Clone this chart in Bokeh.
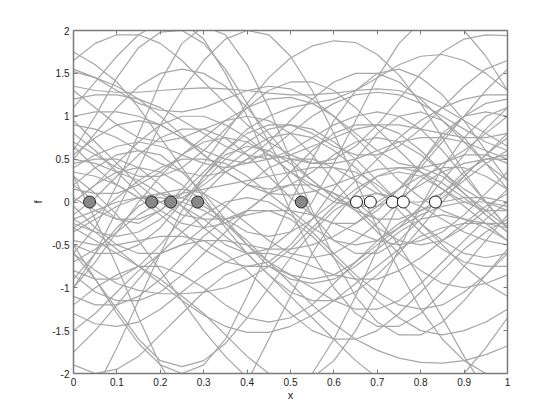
from bokeh.plotting import figure
from bokeh.models import LinearAxis, FixedTicker
from bokeh.embed import file_html
from bokeh.resources import INLINE

x_grid = [0.0, 0.05, 0.1, 0.15, 0.2, 0.25, 0.3, 0.35, 0.4, 0.45, 0.5,
          0.55, 0.6, 0.65, 0.7, 0.75, 0.8, 0.85, 0.9, 0.95, 1.0]

samples = [
    [0.6, 1.0, 1.45, 1.8, 1.98, 2.0, 1.85, 1.55, 1.15, 0.7, 0.25, -0.15, -0.45, -0.6, -0.6, -0.45, -0.2, 0.1, 0.35, 0.5, 0.55],
    [0.2, 0.0, -0.2, -0.25, -0.1, 0.15, 0.45, 0.8, 1.15, 1.45, 1.68, 1.82, 1.88, 1.86, 1.72, 1.48, 1.15, 0.75, 0.35, 0.0, -0.3],
    [-0.8, -0.9, -0.9, -0.75, -0.5, -0.2, 0.1, 0.35, 0.5, 0.55, 0.5, 0.45, 0.5, 0.65, 0.9, 1.2, 1.5, 1.75, 1.9, 1.95, 1.94],
    [1.52, 1.45, 1.35, 1.2, 1.0, 0.78, 0.55, 0.35, 0.2, 0.1, 0.08, 0.12, 0.2, 0.3, 0.38, 0.4, 0.35, 0.22, 0.05, -0.15, -0.35],
    [1.55, 1.45, 1.3, 1.15, 1.07, 1.05, 1.1, 1.2, 1.3, 1.35, 1.32, 1.2, 1.0, 0.75, 0.5, 0.25, 0.05, -0.1, -0.2, -0.25, -0.25],
    [0.5, 0.8, 1.1, 1.35, 1.5, 1.55, 1.5, 1.35, 1.1, 0.8, 0.5, 0.25, 0.05, -0.05, -0.05, 0.05, 0.2, 0.35, 0.45, 0.5, 0.5],
    [-0.5, -0.6, -0.6, -0.5, -0.3, 0.0, 0.3, 0.6, 0.85, 1.0, 1.1, 1.15, 1.2, 1.3, 1.45, 1.6, 1.7, 1.72, 1.65, 1.5, 1.3],
    [-0.6, -0.9, -1.25, -1.6, -1.85, -1.92, -1.85, -1.65, -1.35, -1.0, -0.65, -0.35, -0.1, 0.05, 0.1, 0.05, -0.05, -0.2, -0.35, -0.45, -0.5],
    [-1.3, -1.42, -1.45, -1.4, -1.25, -1.05, -0.85, -0.7, -0.6, -0.6, -0.65, -0.75, -0.85, -0.9, -0.9, -0.8, -0.65, -0.45, -0.25, -0.05, 0.1],
    [-0.2, -0.1, 0.0, 0.05, 0.05, 0.0, -0.1, -0.25, -0.45, -0.7, -0.95, -1.2, -1.42, -1.6, -1.73, -1.82, -1.87, -1.88, -1.85, -1.78, -1.68],
    [-0.6, -0.8, -0.95, -1.03, -1.07, -1.07, -1.05, -1.0, -0.9, -0.75, -0.55, -0.3, -0.05, 0.15, 0.3, 0.35, 0.3, 0.15, -0.05, -0.25, -0.45],
    [-0.2, -0.35, -0.55, -0.75, -0.95, -1.15, -1.32, -1.45, -1.52, -1.52, -1.45, -1.32, -1.15, -0.95, -0.75, -0.55, -0.4, -0.3, -0.25, -0.25, -0.3],
    [-1.75, -1.5, -1.2, -0.9, -0.6, -0.35, -0.15, 0.0, 0.05, 0.0, -0.15, -0.35, -0.6, -0.85, -1.05, -1.2, -1.25, -1.2, -1.05, -0.85, -0.6],
    [0.3, -0.2, -0.75, -1.35, -1.9, -2.3, -2.5, -2.4, -2.1, -1.6, -1.1, -0.6, -0.2, 0.1, 0.3, 0.4, 0.4, 0.3, 0.1, -0.1, -0.3],
    [1.75, 1.6, 1.4, 1.1, 0.75, 0.4, 0.05, -0.3, -0.6, -0.85, -1.05, -1.15, -1.15, -1.05, -0.85, -0.6, -0.3, 0.0, 0.3, 0.55, 0.75],
    [0.4, 0.55, 0.65, 0.7, 0.65, 0.55, 0.45, 0.4, 0.45, 0.6, 0.8, 1.0, 1.15, 1.25, 1.28, 1.25, 1.15, 1.0, 0.85, 0.7, 0.6],
    [-0.3, -0.15, 0.05, 0.25, 0.4, 0.5, 0.5, 0.45, 0.3, 0.1, -0.1, -0.3, -0.45, -0.5, -0.45, -0.3, -0.05, 0.25, 0.55, 0.85, 1.1],
    [0.9, 0.85, 0.75, 0.6, 0.45, 0.35, 0.3, 0.35, 0.5, 0.7, 0.95, 1.2, 1.4, 1.5, 1.5, 1.4, 1.2, 0.95, 0.7, 0.45, 0.25],
    [0.0, 0.2, 0.35, 0.4, 0.35, 0.2, 0.0, -0.25, -0.5, -0.7, -0.85, -0.9, -0.85, -0.7, -0.5, -0.3, -0.15, -0.05, 0.0, 0.0, -0.05],
    [-1.0, -0.7, -0.35, 0.0, 0.3, 0.55, 0.7, 0.75, 0.7, 0.55, 0.35, 0.15, 0.0, -0.05, 0.0, 0.15, 0.4, 0.7, 1.0, 1.3, 1.55],
    [0.8, 0.6, 0.35, 0.1, -0.1, -0.25, -0.3, -0.25, -0.1, 0.1, 0.35, 0.6, 0.8, 0.9, 0.9, 0.8, 0.6, 0.35, 0.1, -0.15, -0.35],
    [-0.45, -0.5, -0.5, -0.45, -0.4, -0.4, -0.45, -0.6, -0.8, -1.05, -1.3, -1.5, -1.6, -1.6, -1.5, -1.3, -1.05, -0.8, -0.55, -0.35, -0.2],
    [1.2, 1.25, 1.25, 1.2, 1.1, 0.95, 0.8, 0.65, 0.55, 0.5, 0.55, 0.65, 0.75, 0.85, 0.9, 0.9, 0.85, 0.8, 0.75, 0.75, 0.8],
    [-0.5, -0.9, -1.3, -1.65, -1.9, -2.0, -1.9, -1.6, -1.1, -0.55, 0.0, 0.5, 0.95, 1.3, 1.5, 1.55, 1.45, 1.25, 0.95, 0.6, 0.25],
    [0.15, 0.1, 0.1, 0.2, 0.35, 0.55, 0.75, 0.95, 1.1, 1.2, 1.22, 1.15, 1.0, 0.8, 0.6, 0.45, 0.4, 0.45, 0.6, 0.8, 1.0],
    [-1.1, -1.2, -1.2, -1.1, -0.9, -0.65, -0.4, -0.2, -0.1, -0.1, -0.2, -0.4, -0.65, -0.9, -1.15, -1.35, -1.5, -1.55, -1.5, -1.4, -1.25],
    [0.65, 0.4, 0.2, 0.05, 0.0, 0.05, 0.2, 0.4, 0.6, 0.75, 0.8, 0.75, 0.6, 0.4, 0.15, -0.1, -0.35, -0.55, -0.7, -0.75, -0.75],
    [1.1, 1.4, 1.7, 1.95, 2.1, 2.1, 1.9, 1.5, 1.0, 0.45, -0.1, -0.6, -1.0, -1.3, -1.45, -1.45, -1.3, -1.05, -0.75, -0.45, -0.15],
    [-0.05, -0.3, -0.5, -0.6, -0.6, -0.5, -0.3, -0.05, 0.2, 0.4, 0.5, 0.5, 0.4, 0.25, 0.1, 0.0, 0.0, 0.1, 0.3, 0.55, 0.8],
    [0.35, 0.3, 0.2, 0.05, -0.15, -0.35, -0.55, -0.7, -0.75, -0.7, -0.5, -0.2, 0.15, 0.5, 0.8, 1.0, 1.05, 0.95, 0.75, 0.45, 0.15],
    [-0.9, -0.6, -0.3, -0.05, 0.1, 0.15, 0.1, -0.05, -0.25, -0.45, -0.6, -0.65, -0.6, -0.45, -0.25, 0.0, 0.25, 0.45, 0.55, 0.55, 0.45],
    [0.5, 0.45, 0.35, 0.25, 0.1, -0.05, -0.2, -0.4, -0.6, -0.85, -1.1, -1.35, -1.6, -1.85, -2.05, -2.2, -2.25, -2.2, -2.0, -1.7, -1.35],
    [1.0, 1.05, 1.05, 1.0, 0.9, 0.75, 0.6, 0.5, 0.45, 0.5, 0.6, 0.75, 0.9, 1.0, 1.05, 1.0, 0.85, 0.6, 0.3, 0.0, -0.3],
    [-0.35, -0.2, -0.05, 0.05, 0.1, 0.05, -0.05, -0.2, -0.35, -0.4, -0.35, -0.2, 0.0, 0.25, 0.5, 0.75, 0.95, 1.1, 1.2, 1.25, 1.25],
    [0.0, 0.2, 0.45, 0.7, 0.9, 1.0, 1.0, 0.9, 0.75, 0.55, 0.35, 0.2, 0.1, 0.0, -0.2, -0.5, -0.9, -1.35, -1.8, -2.2, -2.5],
    [-1.5, -1.3, -1.05, -0.8, -0.6, -0.5, -0.45, -0.45, -0.5, -0.55, -0.55, -0.5, -0.4, -0.25, -0.05, 0.15, 0.3, 0.4, 0.4, 0.3, 0.15],
    [0.7, 0.55, 0.4, 0.3, 0.3, 0.4, 0.6, 0.85, 1.1, 1.3, 1.4, 1.4, 1.3, 1.1, 0.85, 0.6, 0.35, 0.15, 0.0, -0.1, -0.1],
    [0.3, 0.1, -0.15, -0.45, -0.8, -1.15, -1.5, -1.8, -2.05, -2.2, -2.2, -2.0, -1.6, -1.1, -0.55, 0.0, 0.45, 0.8, 1.0, 1.05, 1.0],
    [-0.7, -0.55, -0.35, -0.15, 0.0, 0.1, 0.15, 0.2, 0.25, 0.3, 0.35, 0.4, 0.4, 0.35, 0.2, 0.0, -0.25, -0.5, -0.75, -0.95, -1.1],
    [0.2, 0.4, 0.55, 0.6, 0.55, 0.35, 0.1, -0.2, -0.5, -0.75, -0.9, -0.95, -0.9, -0.75, -0.55, -0.35, -0.2, -0.15, -0.2, -0.3, -0.45],
    [1.65, 1.85, 1.95, 1.95, 1.85, 1.65, 1.4, 1.15, 0.9, 0.7, 0.55, 0.45, 0.45, 0.5, 0.6, 0.7, 0.75, 0.75, 0.7, 0.6, 0.5],
    [-0.25, -0.35, -0.4, -0.35, -0.2, 0.0, 0.25, 0.5, 0.7, 0.85, 0.9, 0.85, 0.7, 0.5, 0.25, 0.0, -0.25, -0.45, -0.6, -0.65, -0.6],
    [0.95, 0.7, 0.45, 0.2, 0.0, -0.15, -0.2, -0.2, -0.15, -0.1, -0.1, -0.15, -0.25, -0.35, -0.45, -0.5, -0.45, -0.35, -0.15, 0.1, 0.35],
    [-0.6, -0.3, 0.2, 0.8, 1.4, 1.85, 2.05, 1.95, 1.6, 1.1, 0.5, -0.1, -0.65, -1.1, -1.4, -1.55, -1.55, -1.4, -1.15, -0.85, -0.55],
    [-1.2, -1.0, -0.85, -0.75, -0.75, -0.85, -1.0, -1.2, -1.35, -1.4, -1.35, -1.2, -0.95, -0.7, -0.45, -0.25, -0.1, 0.0, 0.05, 0.05, 0.0],
    [1.3, 1.1, 0.9, 0.75, 0.7, 0.75, 0.85, 0.95, 1.0, 0.95, 0.8, 0.55, 0.25, -0.05, -0.3, -0.45, -0.5, -0.45, -0.3, -0.1, 0.15],
    [0.45, 0.5, 0.5, 0.4, 0.2, -0.05, -0.3, -0.5, -0.6, -0.55, -0.35, 0.0, 0.45, 0.95, 1.45, 1.85, 2.1, 2.15, 2.0, 1.7, 1.3],
    [-0.85, -1.05, -1.15, -1.15, -1.05, -0.85, -0.6, -0.35, -0.1, 0.1, 0.2, 0.2, 0.1, -0.1, -0.35, -0.6, -0.8, -0.95, -1.0, -0.95, -0.85],
    [1.35, 1.3, 1.28, 1.28, 1.3, 1.32, 1.33, 1.32, 1.3, 1.27, 1.25, 1.25, 1.27, 1.3, 1.32, 1.3, 1.22, 1.1, 0.95, 0.8, 0.65],
    [-1.0, -0.6, -0.1, 0.4, 0.9, 1.3, 1.65, 1.9, 2.0, 1.95, 1.7, 1.3, 0.8, 0.25, -0.3, -0.8, -1.25, -1.6, -1.85, -2.0, -2.05],
    [0.05, -0.1, -0.2, -0.2, -0.1, 0.1, 0.35, 0.6, 0.8, 0.9, 0.9, 0.8, 0.65, 0.55, 0.55, 0.65, 0.85, 1.1, 1.35, 1.55, 1.65],
    [-2.6, -2.2, -1.7, -1.15, -0.6, -0.1, 0.3, 0.55, 0.65, 0.6, 0.45, 0.25, 0.05, -0.1, -0.2, -0.2, -0.1, 0.05, 0.25, 0.45, 0.6],
    [0.55, 0.75, 0.9, 0.95, 0.9, 0.75, 0.55, 0.35, 0.2, 0.15, 0.2, 0.35, 0.55, 0.7, 0.75, 0.7, 0.55, 0.35, 0.15, 0.0, -0.1],
    [-0.3, -0.45, -0.6, -0.75, -0.9, -1.1, -1.3, -1.55, -1.8, -2.0, -2.1, -2.05, -1.85, -1.5, -1.05, -0.55, -0.05, 0.4, 0.75, 1.0, 1.1],
    [-0.15, 0.05, 0.3, 0.55, 0.75, 0.85, 0.85, 0.75, 0.55, 0.3, 0.05, -0.15, -0.25, -0.25, -0.1, 0.15, 0.45, 0.75, 1.0, 1.15, 1.2],
    [-1.9, -2.0, -1.95, -1.8, -1.55, -1.3, -1.05, -0.85, -0.75, -0.75, -0.85, -1.0, -1.15, -1.25, -1.25, -1.15, -0.95, -0.7, -0.45, -0.2, 0.0],
]

train_x = [0.037, 0.18, 0.224, 0.286, 0.525]
train_y = [0, 0, 0, 0, 0]
test_x = [0.652, 0.684, 0.735, 0.760, 0.834]
test_y = [0, 0, 0, 0, 0]

x_ticks = [0, 0.1, 0.2, 0.3, 0.4, 0.5, 0.6, 0.7, 0.8, 0.9, 1]
x_tick_labels = ["0", "0.1", "0.2", "0.3", "0.4", "0.5", "0.6", "0.7", "0.8", "0.9", "1"]
y_ticks = [-2, -1.5, -1, -0.5, 0, 0.5, 1, 1.5, 2]
y_tick_labels = ["-2", "-1.5", "-1", "-0.5", "0", "0.5", "1", "1.5", "2"]

FONT = "Liberation Sans"
AX_COLOR = "#7a7a7a"

p = figure(frame_width=434, frame_height=343, x_range=(0, 1), y_range=(-2, 2),
           output_backend="svg", toolbar_location=None,
           min_border_left=73, min_border_right=40, min_border_top=30, min_border_bottom=36,
           background_fill_color="white", border_fill_color="white")
p.outline_line_color = None
p.grid.visible = False

p.multi_line(xs=[x_grid] * len(samples), ys=samples, line_color="#a6a6a6", line_width=1.2)

p.scatter(train_x, train_y, size=12, fill_color="#888888", line_color="#2b2b2b", line_width=1)
p.scatter(test_x, test_y, size=12, fill_color="white", line_color="#1a1a1a", line_width=1)

xt = FixedTicker(ticks=x_ticks, minor_ticks=[])
yt = FixedTicker(ticks=y_ticks, minor_ticks=[])

def style(ax, ticker, labels, show):
    ax.ticker = ticker
    ax.axis_line_color = AX_COLOR
    ax.axis_line_width = 1.5
    ax.major_tick_line_color = AX_COLOR
    ax.major_tick_in = 4
    ax.major_tick_out = 0
    ax.minor_tick_line_color = None
    ax.major_label_text_font = FONT
    ax.major_label_text_font_size = "10px"
    ax.major_label_text_color = "#222222"
    ax.axis_label_text_font = FONT
    ax.axis_label_text_font_size = "11px"
    ax.axis_label_text_font_style = "normal"
    ax.axis_label_text_color = "#222222"
    if show:
        ax.major_label_overrides = {t: l for t, l in zip(ticker.ticks, labels)}
        ax.major_label_standoff = 4
    else:
        ax.major_label_overrides = {t: "" for t in ticker.ticks}
        ax.major_label_standoff = 0

style(p.xaxis[0], xt, x_tick_labels, True)
style(p.yaxis[0], yt, y_tick_labels, True)
p.xaxis[0].axis_label = "x"
p.xaxis[0].axis_label_standoff = 0
p.yaxis[0].axis_label = "f"
p.yaxis[0].axis_label_standoff = 5

top = LinearAxis()
right = LinearAxis()
style(top, xt, x_tick_labels, False)
style(right, yt, y_tick_labels, False)
p.add_layout(top, "above")
p.add_layout(right, "right")

open("out.html", "w").write(file_html(p, INLINE))
